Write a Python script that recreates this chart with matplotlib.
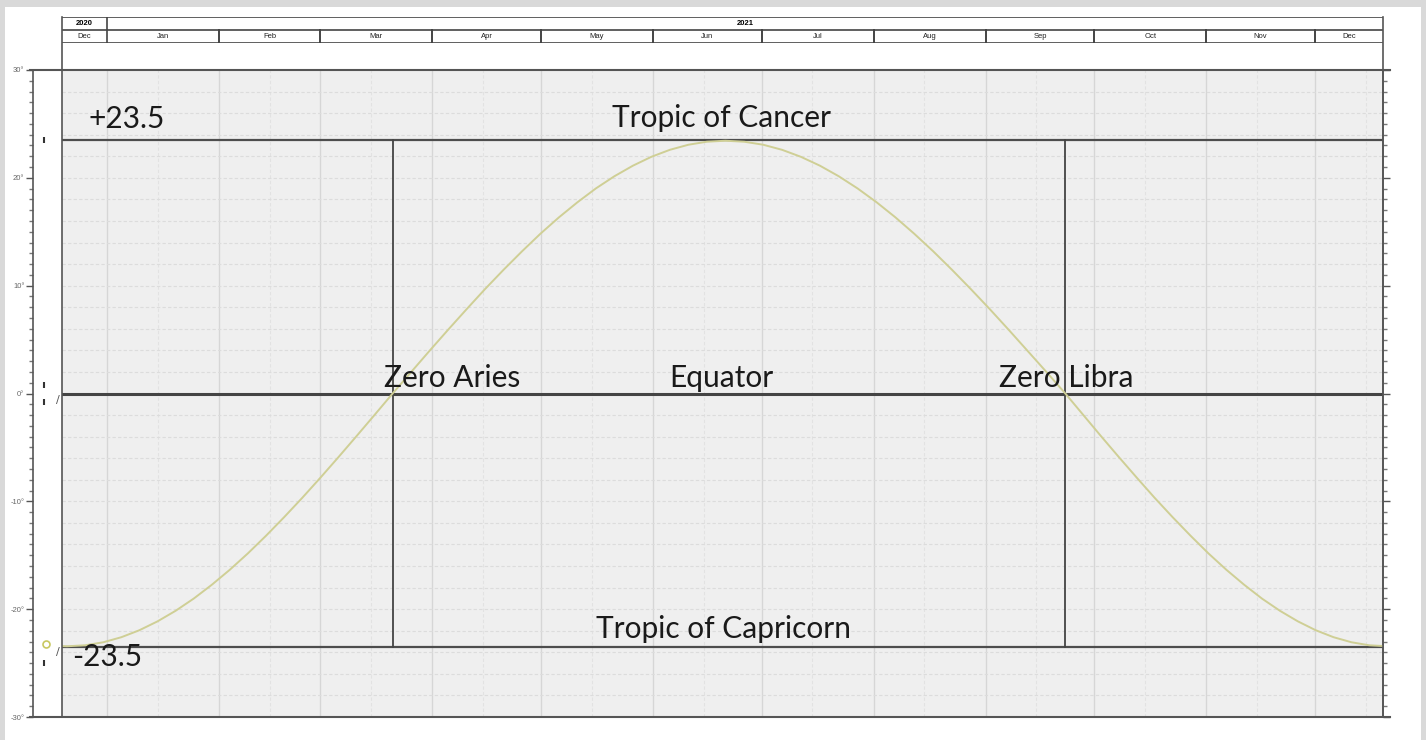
import numpy as np
import matplotlib.pyplot as plt
import matplotlib.dates as mdates
from matplotlib.lines import Line2D
from matplotlib.patches import Rectangle
from datetime import datetime

# Deklinasi matahari
dates = ["2020-12-19", "2020-12-21", "2020-12-26", "2020-12-31", "2021-01-05",
         "2021-01-10", "2021-01-15", "2021-01-20", "2021-01-25", "2021-01-30",
         "2021-02-04", "2021-02-09", "2021-02-14", "2021-02-19", "2021-02-24",
         "2021-03-01", "2021-03-06", "2021-03-11", "2021-03-16", "2021-03-21",
         "2021-03-26T03", "2021-03-31T05", "2021-04-05T08", "2021-04-10T11", "2021-04-15T13",
         "2021-04-20T16", "2021-04-25T19", "2021-04-30T21", "2021-05-06T00", "2021-05-11T03",
         "2021-05-16T05", "2021-05-21T08", "2021-05-26T11", "2021-05-31T13", "2021-06-05T16",
         "2021-06-10T19", "2021-06-15T21", "2021-06-21", "2021-06-26T05", "2021-07-01T11",
         "2021-07-06T16", "2021-07-11T21", "2021-07-17T03", "2021-07-22T08", "2021-07-27T13",
         "2021-08-01T19", "2021-08-07T00", "2021-08-12T05", "2021-08-17T11", "2021-08-22T16",
         "2021-08-27T21", "2021-09-02T03", "2021-09-07T08", "2021-09-12T13", "2021-09-17T19",
         "2021-09-23", "2021-09-27T23", "2021-10-02T21", "2021-10-07T20", "2021-10-12T19",
         "2021-10-17T17", "2021-10-22T16", "2021-10-27T15", "2021-11-01T13", "2021-11-06T12",
         "2021-11-11T11", "2021-11-16T09", "2021-11-21T08", "2021-11-26T07", "2021-12-01T05",
         "2021-12-06T04", "2021-12-11T03", "2021-12-16T01", "2021-12-21"]
decl = [-23.42, -23.44, -23.35, -23.07, -22.60, -21.95, -21.13, -20.15, -19.02, -17.74,
        -16.34, -14.82, -13.19, -11.47, -9.68, -7.82, -5.91, -3.96, -1.99, 0.0,
        1.99, 3.96, 5.91, 7.82, 9.68, 11.47, 13.19, 14.82, 16.34, 17.74,
        19.02, 20.15, 21.13, 21.95, 22.60, 23.07, 23.35, 23.44, 23.35, 23.07,
        22.60, 21.95, 21.13, 20.15, 19.02, 17.74, 16.34, 14.82, 13.19, 11.47,
        9.68, 7.82, 5.91, 3.96, 1.99, 0.0, -1.99, -3.96, -5.91, -7.82,
        -9.68, -11.47, -13.19, -14.82, -16.34, -17.74, -19.02, -20.15, -21.13, -21.95,
        -22.60, -23.07, -23.35, -23.44]

month_labels = ["Dec", "Jan", "Feb", "Mar", "Apr", "May", "Jun", "Jul", "Aug",
                "Sep", "Oct", "Nov", "Dec"]
year_labels = ["2020", "2021"]
tropic = 23.5
equinoxes = ["2021-03-21", "2021-09-23"]

x = [datetime.fromisoformat(d) for d in dates]
eq = [mdates.date2num(datetime.fromisoformat(d)) for d in equinoxes]
x0 = mdates.date2num(datetime(2020, 12, 19, 14))
x1 = mdates.date2num(datetime(2021, 12, 19, 20))
month_starts = [mdates.date2num(datetime(2021, m, 1)) for m in range(1, 13)]

W, H = 1426, 740
fig = plt.figure(figsize=(W / 100, H / 100), dpi=100, facecolor="#d9d9d9")
fig.patches.append(Rectangle((5 / W, 0), 1416 / W, 733 / H, transform=fig.transFigure,
                             facecolor="white", edgecolor="none", zorder=-10))

ax = fig.add_axes([62 / W, 1 - 717 / H, 1321 / W, 647 / H])
ax.set_facecolor("#efefef")
ax.set_xlim(x0, x1)
ax.set_ylim(-30, 30)

# grid
for m in month_starts:
    ax.axvline(m, color="#d6d6d6", lw=1.0, zorder=1)
    ax.axvline(m + 14, color="#e2e2e2", lw=0.8, ls=(0, (3, 2)), zorder=1)
for v in np.arange(-28, 30, 2):
    ax.axhline(v, color="#dcdcdc", lw=0.8, ls=(0, (3, 2)), zorder=1)

# garis utama
for v in [tropic, -tropic]:
    ax.axhline(v, color="#4d4d4d", lw=1.6, zorder=3)
ax.axhline(0, color="#444444", lw=2.2, zorder=3)
for e in eq:
    ax.plot([e, e], [-tropic, tropic], color="#444444", lw=1.3, zorder=3)

ax.plot(x, decl, color="#cfcf95", lw=1.4, zorder=4)

# label
lab = dict(family="Lato", fontsize=21.5, color="#1a1a1a", va="baseline", zorder=5)
ax.text(mdates.date2num(datetime(2020, 12, 27)), 24.6, "+23.5", ha="left", **lab)
ax.text(mdates.date2num(datetime(2020, 12, 22, 12)), -25.3, "-23.5", ha="left", **lab)
ax.text(mdates.date2num(datetime(2021, 6, 20)), 24.7, "Tropic of Cancer", ha="center", **lab)
ax.text(mdates.date2num(datetime(2021, 6, 20)), 0.6, "Equator", ha="center", **lab)
ax.text(mdates.date2num(datetime(2021, 6, 20, 12)), -22.7, "Tropic of Capricorn", ha="center", **lab)
ax.text(mdates.date2num(datetime(2021, 3, 18, 12)), 0.6, "Zero Aries", ha="left", **lab)
ax.text(mdates.date2num(datetime(2021, 9, 4, 18)), 0.6, "Zero Libra", ha="left", **lab)

# sumbu
ax.spines["left"].set_position(("outward", 21))
ax.spines["bottom"].set_visible(False)
ax.spines["top"].set_visible(False)
for s in ["left", "right"]:
    ax.spines[s].set_color("#555555")
    ax.spines[s].set_linewidth(1.2)
ax.set_xticks([])
ax.set_yticks(np.arange(-30, 31, 10))
ax.set_yticks(np.arange(-30, 31, 1), minor=True)
ax.set_yticklabels([f"{v}°" for v in range(-30, 31, 10)], fontsize=5.5,
                   color="#666666", family="Liberation Sans")
ax.tick_params(axis="y", which="major", length=5, width=1, color="#555555",
               right=True, direction="out", pad=1)
ax.tick_params(axis="y", which="minor", length=3, width=1, color="#777777",
               right=True, direction="out")

# garis bingkai
def fline(xa, ya, xb, yb, lw=1.2, c="#555555"):
    fig.add_artist(Line2D([xa / W, xb / W], [1 - ya / H, 1 - yb / H], color=c, lw=lw,
                          transform=fig.transFigure))

fline(62, 17, 62, 717)
fline(1383, 17, 1383, 717)
fline(30, 70, 1390, 70, lw=1.5)
fline(30, 717, 1390, 717, lw=1.5)

# tanda kecil di kiri
for yy in [tropic, 0.8, -0.8, -25]:
    ax.plot([x0 - 5.0], [yy], marker="|", ms=4, mew=1.5, color="#333333", clip_on=False)
ax.plot([x0 - 4.5], [-23.2], marker="o", ms=5, mfc="none", mec="#c8c860", mew=1.2, clip_on=False)
for yy in [-0.6, -24.0]:
    ax.text(x0 - 1.2, yy, "/", fontsize=8, color="#555555", ha="center", va="center")

# header bulan / tahun
hx = fig.add_axes([62 / W, 1 - 43 / H, 1321 / W, 26 / H])
hx.set_xlim(x0, x1)
hx.set_ylim(0, 2)
hx.axis("off")
for yy in [0, 1, 2]:
    hx.axhline(yy, color="#444444", lw=1.2)
for i, m in enumerate(month_starts):
    hx.plot([m, m], [0, 2 if i == 0 else 1], color="#444444", lw=1.2 if i == 0 else 1.4)
edges = [x0] + month_starts + [x1]
for lbl, a, b in zip(month_labels, edges[:-1], edges[1:]):
    hx.text((a + b) / 2, 0.5, lbl, ha="center", va="center", fontsize=5.5,
            family="Liberation Sans", color="#222222")
hx.text((x0 + month_starts[0]) / 2, 1.5, year_labels[0], ha="center", va="center",
        fontsize=5.5, fontweight="bold", family="Liberation Sans")
hx.text((month_starts[0] + x1) / 2, 1.5, year_labels[1], ha="center", va="center",
        fontsize=5.5, fontweight="bold", family="Liberation Sans")

fig.savefig("out.png", dpi=100, facecolor=fig.get_facecolor())
